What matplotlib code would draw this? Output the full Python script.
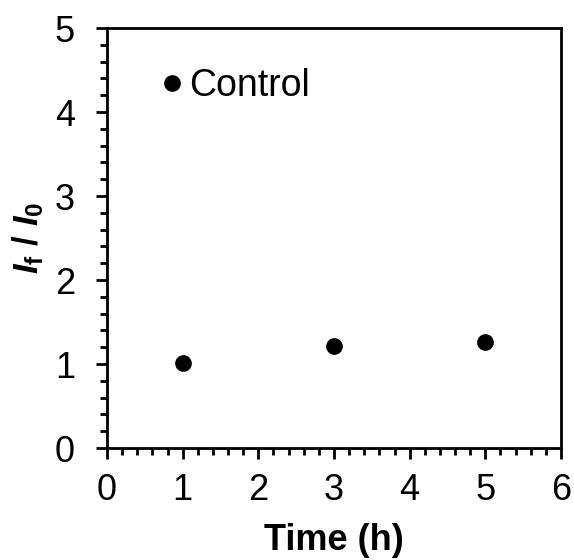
import matplotlib
matplotlib.use("Agg")
import matplotlib.pyplot as plt
from matplotlib.ticker import MultipleLocator
from matplotlib.lines import Line2D

plt.rcParams['font.family'] = ['Liberation Sans', 'DejaVu Sans']
plt.rcParams['mathtext.fontset'] = 'custom'
plt.rcParams['mathtext.rm'] = 'Liberation Sans'
plt.rcParams['mathtext.it'] = 'Liberation Sans:italic'
plt.rcParams['mathtext.bf'] = 'Liberation Sans:bold'
plt.rcParams['mathtext.bfit'] = 'Liberation Sans:bold:italic'

time_h = [1, 3, 5]
ratio = [1.01, 1.22, 1.26]
err = [0.02, 0.06, 0.04]
series_label = "Control"

fig = plt.figure(figsize=(5.74, 5.6), dpi=100)
ax = fig.add_axes([107/574, 1 - 448/560, 454/574, 420/560])

ax.errorbar(time_h, ratio, yerr=err, fmt='o', color='black', ms=11,
            elinewidth=1.5, capsize=3, capthick=1.5)

ax.set_xlim(0, 6)
ax.set_ylim(0, 5)
ax.xaxis.set_major_locator(MultipleLocator(1))
ax.xaxis.set_minor_locator(MultipleLocator(0.2))
ax.yaxis.set_major_locator(MultipleLocator(1))
ax.yaxis.set_minor_locator(MultipleLocator(0.2))
for s in ax.spines.values():
    s.set_linewidth(2)
ax.tick_params(which='major', direction='out', length=8, width=2, labelsize=26)
ax.tick_params(axis='x', which='major', pad=10)
ax.tick_params(axis='y', which='major', pad=15)
ax.tick_params(which='minor', direction='out', length=5, width=2)

ax.set_xlabel("Time (h)", fontsize=26, fontweight='bold', labelpad=11)
ax.set_ylabel(r"$\boldsymbol{I}_\mathbf{f}$ / $\boldsymbol{I}_\mathbf{0}$", fontsize=25,
              fontweight='bold', labelpad=6)

handle = Line2D([], [], marker='o', color='black', linestyle='none', ms=11)
ax.legend([handle], [series_label], loc='upper left', bbox_to_anchor=(0.077, 0.94),
          frameon=False, fontsize=27, handletextpad=0.05, handlelength=0.8,
          borderaxespad=0)

fig.savefig("out.png", dpi=100)
